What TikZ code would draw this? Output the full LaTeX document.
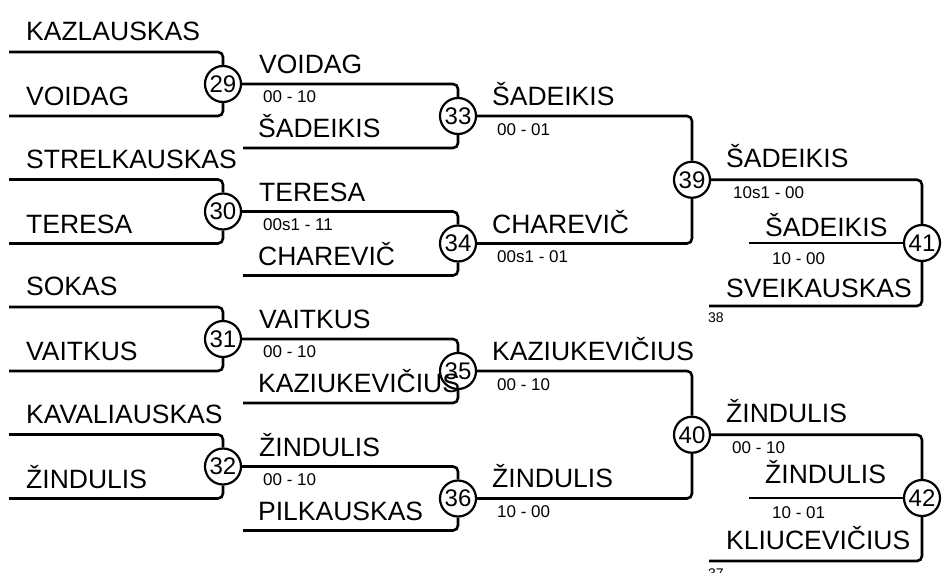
\documentclass[tikz,border=0pt]{standalone}
\usepackage{fontspec}
\setmainfont{Liberation Sans}
\begin{document}
\begin{tikzpicture}[x=1pt,y=-1pt,
  pname/.style={anchor=base west, inner sep=0pt, font=\fontsize{26.5}{30}\selectfont},
  pscore/.style={anchor=base west, inner sep=0pt, font=\fontsize{17}{20}\selectfont},
  ptiny/.style={anchor=base west, inner sep=0pt, font=\fontsize{14}{16}\selectfont},
  pnum/.style={circle, draw, line width=2.2pt, minimum size=36pt, inner sep=0pt, font=\fontsize{24}{26}\selectfont},
  wire/.style={line width=2.6pt, rounded corners=5pt}]
\useasboundingbox (0,0) rectangle (946,573);

% ---- circles
\node[pnum] (m29) at (223,84) {29};
\node[pnum] (m30) at (223,211.5) {30};
\node[pnum] (m31) at (223,339) {31};
\node[pnum] (m32) at (223,466.5) {32};
\node[pnum] (m33) at (458,116) {33};
\node[pnum] (m34) at (458,243.5) {34};
\node[pnum] (m35) at (458,371) {35};
\node[pnum] (m36) at (458,498.5) {36};
\node[pnum] (m39) at (692,179.75) {39};
\node[pnum] (m40) at (692,434.75) {40};
\node[pnum] (m41) at (922,243) {41};
\node[pnum] (m42) at (922,498) {42};

% ---- free ends
\coordinate (a1) at (9,52);   \coordinate (a2) at (9,116);
\coordinate (a3) at (9,179.5); \coordinate (a4) at (9,243.5);
\coordinate (a5) at (9,307);  \coordinate (a6) at (9,371);
\coordinate (a7) at (9,434.5); \coordinate (a8) at (9,498.5);
\coordinate (b1) at (243,148);  \coordinate (b2) at (243,275.5);
\coordinate (b3) at (243,403);  \coordinate (b4) at (243,530.5);
\coordinate (c1) at (749,243);  \coordinate (c2) at (709,306);
\coordinate (c3) at (749,498);  \coordinate (c4) at (709,561);

% ---- round 1
\draw[wire] (a1) -| (m29); \draw[wire] (a2) -| (m29);
\draw[wire] (a3) -| (m30); \draw[wire] (a4) -| (m30);
\draw[wire] (a5) -| (m31); \draw[wire] (a6) -| (m31);
\draw[wire] (a7) -| (m32); \draw[wire] (a8) -| (m32);
% ---- round 2
\draw[wire] (m29) -| (m33); \draw[wire] (b1) -| (m33);
\draw[wire] (m30) -| (m34); \draw[wire] (b2) -| (m34);
\draw[wire] (m31) -| (m35); \draw[wire] (b3) -| (m35);
\draw[wire] (m32) -| (m36); \draw[wire] (b4) -| (m36);
% ---- round 3
\draw[wire] (m33) -| (m39); \draw[wire] (m34) -| (m39);
\draw[wire] (m35) -| (m40); \draw[wire] (m36) -| (m40);
% ---- round 4
\draw[wire] (m39) -| (m41); \draw[wire] (c1) -- (m41); \draw[wire] (c2) -| (m41);
\draw[wire] (m40) -| (m42); \draw[wire] (c3) -- (m42); \draw[wire] (c4) -| (m42);

% ---- names round 1
\node[pname] (n1) at (26,40.5) {KAZLAUSKAS};
\node[pname] (n2) at (26,105.5) {VOIDAG};
\node[pname] (n3) at (26,168) {STRELKAUSKAS};
\node[pname] (n4) at (26,233) {TERESA};
\node[pname] (n5) at (26,295.5) {SOKAS};
\node[pname] (n6) at (26,360.5) {VAITKUS};
\node[pname] (n7) at (26,423) {KAVALIAUSKAS};
\node[pname] (n8) at (26,488) {ŽINDULIS};

% ---- round 2
\node[pname] (p1) at (259,73.5) {VOIDAG};
\node[pscore] (s1) at (263,102.5) {00 - 10};
\node[pname] (q1) at (258,137.5) {ŠADEIKIS};
\node[pname] (p2) at (259,201) {TERESA};
\node[pscore] (s2) at (263,230) {00s1 - 11};
\node[pname] (q2) at (258,265) {CHAREVIČ};
\node[pname] (p3) at (259,328.5) {VAITKUS};
\node[pscore] (s3) at (263,357.5) {00 - 10};
\node[pname] (q3) at (258,392.5) {KAZIUKEVIČIUS};
\node[pname] (p4) at (259,456) {ŽINDULIS};
\node[pscore] (s4) at (263,485) {00 - 10};
\node[pname] (q4) at (258,520) {PILKAUSKAS};

% ---- round 3
\node[pname] (r1) at (492,105) {ŠADEIKIS};
\node[pscore] (t1) at (497,135) {00 - 01};
\node[pname] (r2) at (492,233) {CHAREVIČ};
\node[pscore] (t2) at (497,262.5) {00s1 - 01};
\node[pname] (r3) at (492,360) {KAZIUKEVIČIUS};
\node[pscore] (t3) at (497,390) {00 - 10};
\node[pname] (r4) at (492,487.5) {ŽINDULIS};
\node[pscore] (t4) at (497,517.5) {10 - 00};

% ---- round 4
\node[pname] (u1) at (726,167) {ŠADEIKIS};
\node[pscore] (v1) at (733,198) {10s1 - 00};
\node[pname] (u2) at (765,236) {ŠADEIKIS};
\node[pscore] (v2) at (772,264) {10 - 00};
\node[pname] (u3) at (726,297) {SVEIKAUSKAS};
\node[ptiny] (w1) at (708,322) {38};
\node[pname] (u4) at (726,422) {ŽINDULIS};
\node[pscore] (v4) at (732,453) {00 - 10};
\node[pname] (u5) at (765,483) {ŽINDULIS};
\node[pscore] (v5) at (772,518) {10 - 01};
\node[pname] (u6) at (726,549) {KLIUCEVIČIUS};
\node[ptiny] (w2) at (708,578) {37};
\end{tikzpicture}
\end{document}
